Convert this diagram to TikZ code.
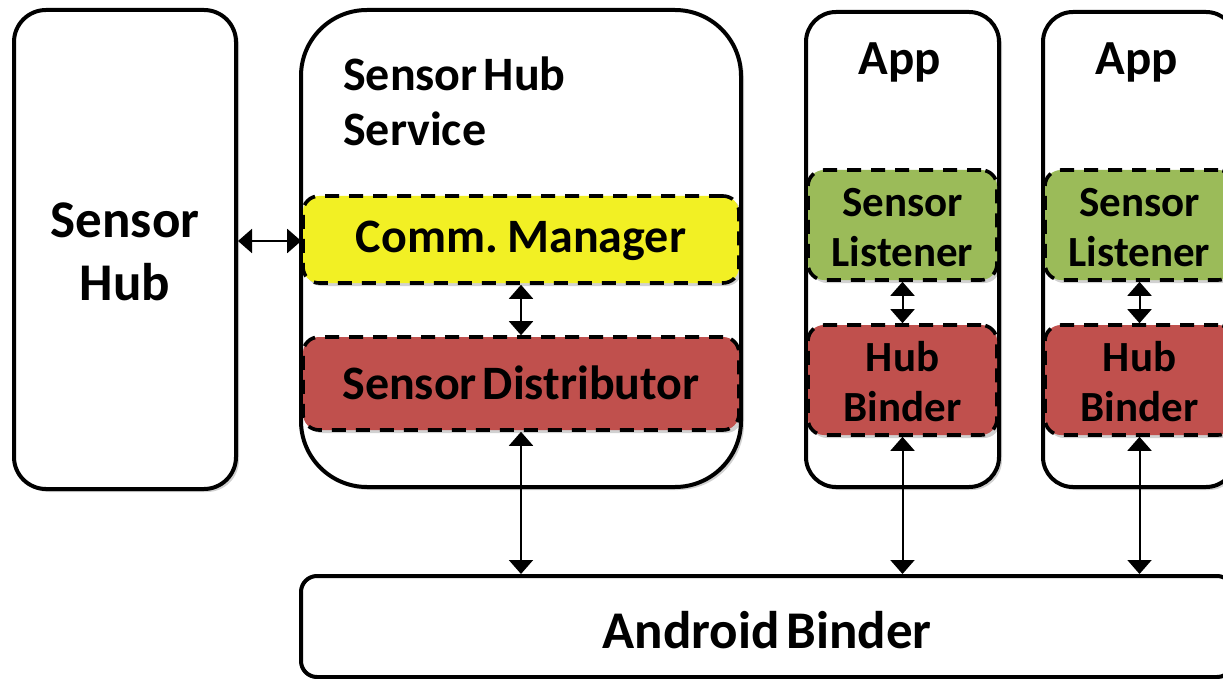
\documentclass[tikz,border=0pt]{standalone}
\usepackage{fontspec}
\setmainfont{Carlito}[WordSpace=0.55]
\usetikzlibrary{arrows.meta,shadows}
\definecolor{cmyellow}{RGB}{242,240,36}
\definecolor{sdred}{RGB}{192,80,77}
\definecolor{slgreen}{RGB}{155,187,89}
\begin{document}
\begin{tikzpicture}[x=1pt,y=-1pt,
  shd/.style={drop shadow={shadow xshift=3pt,shadow yshift=-3pt,opacity=0.18,fill=black}},
  outerbox/.style={draw, line width=4pt, fill=white, shd, inner sep=0pt},
  innerbox/.style={draw, line width=3.6pt, dash pattern=on 14pt off 10pt, rounded corners=16pt, shd, inner sep=0pt},
  lbl/.style={font=\fontsize{48}{52}\selectfont\bfseries, align=center, inner sep=0pt},
  smlbl/.style={font=\fontsize{43}{50}\selectfont\bfseries, align=center, inner sep=0pt},
  dbl/.style={{Triangle[width=24pt,length=14pt]}-{Triangle[width=24pt,length=14pt]}, line width=2pt}]
\useasboundingbox (0,0) rectangle (1223,679);
\clip (0,0) rectangle (1223,679);
% outer boxes
\node[outerbox, rounded corners=32pt, minimum width=222pt, minimum height=479pt] (sh) at (125,249.5) {};
\node[outerbox, rounded corners=66pt, minimum width=440pt, minimum height=477pt] (shs) at (521,248.5) {};
\node[outerbox, rounded corners=30pt, minimum width=193pt, minimum height=475pt] (app1) at (902.5,249.5) {};
\node[outerbox, rounded corners=30pt, minimum width=193pt, minimum height=475pt] (app2) at (1139.5,249.5) {};
\node[outerbox, rounded corners=16pt, minimum width=932pt, minimum height=101pt] (ab) at (767,626.5) {};
% inner boxes
\node[innerbox, fill=cmyellow, minimum width=436pt, minimum height=87pt] (cm) at (521,239.5) {};
\node[innerbox, fill=sdred, minimum width=436pt, minimum height=93pt] (sd) at (521,383.5) {};
\node[innerbox, fill=slgreen, minimum width=189pt, minimum height=110pt] (sl1) at (902.5,225) {};
\node[innerbox, fill=sdred, minimum width=189pt, minimum height=110pt] (hb1) at (902.5,380) {};
\node[innerbox, fill=slgreen, minimum width=189pt, minimum height=110pt] (sl2) at (1139.5,225) {};
\node[innerbox, fill=sdred, minimum width=189pt, minimum height=110pt] (hb2) at (1139.5,380) {};
% labels
\node[lbl, font=\fontsize{53}{63}\selectfont\bfseries] (shlbl) at (125,252) {Sensor\\Hub};
\node[lbl, align=left, anchor=west, font=\fontsize{48}{55}\selectfont\bfseries] (shslbl) at (343,101) {Sensor Hub\\Service};
\node[lbl] (cmlbl) at (521,241) {Comm. Manager};
\node[lbl] (sdlbl) at (521,383) {Sensor Distributor};
\node[lbl, font=\fontsize{49}{50}\selectfont\bfseries] (app1lbl) at (900,62) {App};
\node[lbl, font=\fontsize{49}{50}\selectfont\bfseries] (app2lbl) at (1137,62) {App};
\node[smlbl] (sl1lbl) at (902.5,228) {Sensor\\Listener};
\node[smlbl] (hb1lbl) at (902.5,382) {Hub\\Binder};
\node[smlbl] (sl2lbl) at (1139.5,228) {Sensor\\Listener};
\node[smlbl] (hb2lbl) at (1139.5,382) {Hub\\Binder};
\node[lbl, font=\fontsize{53}{56}\selectfont\bfseries] (ablbl) at (767,630) {Android Binder};
% connectors
\draw[dbl] (sh.east |- 0,241) -- (cm.west |- 0,241);
\draw[dbl] (cm.south) -- (sd.north);
\draw[dbl] (sd.south) -- (sd.south |- ab.north);
\draw[dbl] (sl1.south) -- (hb1.north);
\draw[dbl] (hb1.south) -- (hb1.south |- ab.north);
\draw[dbl] (sl2.south) -- (hb2.north);
\draw[dbl] (hb2.south) -- (hb2.south |- ab.north);
\end{tikzpicture}
\end{document}
